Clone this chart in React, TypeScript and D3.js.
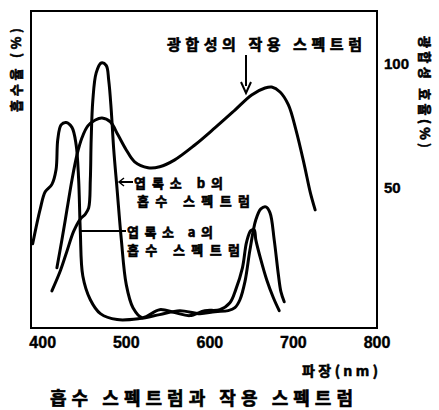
import React, { useEffect, useRef } from "react";
import * as d3 from "d3";

// wavelengths (nm) and relative values (%)
const chlAWavelength = [388, 397, 403, 411, 416, 418, 422, 428, 435, 440, 443, 445, 448, 457, 469, 489, 516, 540, 564, 588, 606, 622, 630, 636, 642, 648, 655, 661, 667, 672, 677, 682, 685, 689];
const chlAValue = [27, 41, 48, 51, 57, 69, 75, 76, 74, 67, 53, 32, 14, 4.4, -1.2, -3.6, -3.2, -1.6, 0, -1.2, -0.4, 0, 1.2, 4.4, 11.7, 24.6, 36.7, 41.1, 41.9, 39.5, 28.6, 14.5, 7.7, 3.6];

const chlBWavelength = [411, 421, 429, 437, 445, 451, 455, 457, 458, 460, 464, 470, 476, 479, 482, 485, 489, 494, 500, 508, 519, 540, 558, 576, 594, 612, 624, 631, 639, 644, 649, 653, 655, 661, 668, 676, 683];
const chlBValue = [8, 16, 24, 32, 37, 39, 41.5, 53, 69, 85, 96, 100, 99, 93, 81, 65, 49, 29, 10.5, 1.2, -2.8, 0.4, -0.8, -2, 0, 0.4, 3.2, 8.5, 17.3, 27.8, 32.3, 32.7, 28.6, 20.6, 12.5, 5.2, 0];

const actionWavelength = [417, 423, 429, 435, 441, 447, 454, 463, 471, 481, 490, 500, 510, 526, 540, 558, 582, 606, 630, 650, 666, 674, 684, 694, 703, 713, 720, 726];
const actionValue = [17.3, 28.6, 40.7, 52.8, 62.9, 69.8, 74.6, 77, 77.8, 76.2, 71, 64.9, 60.1, 57.7, 58.1, 60.9, 66.9, 73.8, 81, 87.1, 89.9, 90.3, 88.3, 83.1, 73, 58.9, 48, 40.7];

const xTicks = [400, 500, 600, 700, 800];
const yTicks = [50, 100];

const KR = "'Noto Sans CJK KR', 'Noto Sans', sans-serif";
const NUM = "'Liberation Sans', Arial, sans-serif";

export default function App() {
  const svgRef = useRef<SVGSVGElement>(null);

  useEffect(() => {
    const width = 439;
    const height = 410;
    const left = 31, right = 377, top = 11, bottom = 328;

    const svg = d3.select(svgRef.current);
    svg.selectAll("*").remove();
    svg.attr("width", width).attr("height", height);

    svg.append("rect").attr("width", width).attr("height", height).attr("fill", "#fff");

    const x = d3.scaleLinear().domain([386, 800]).range([left, right]);
    const y = d3.scaleLinear().domain([-7, 121]).range([bottom, top]);

    // frame
    svg.append("rect")
      .attr("x", left).attr("y", top)
      .attr("width", right - left).attr("height", bottom - top)
      .attr("fill", "none").attr("stroke", "#000").attr("stroke-width", 2);

    const line = d3.line<[number, number]>()
      .x((d) => x(d[0]))
      .y((d) => y(d[1]))
      .curve(d3.curveCatmullRom.alpha(0.5));

    const series = [
      d3.zip(chlAWavelength, chlAValue),
      d3.zip(chlBWavelength, chlBValue),
      d3.zip(actionWavelength, actionValue),
    ] as [number, number][][];

    svg.selectAll("path.curve")
      .data(series)
      .join("path")
      .attr("class", "curve")
      .attr("d", (d) => line(d))
      .attr("fill", "none")
      .attr("stroke", "#000")
      .attr("stroke-width", 3)
      .attr("stroke-linejoin", "round")
      .attr("stroke-linecap", "round");

    // x tick labels
    svg.selectAll("text.xt")
      .data(xTicks)
      .join("text")
      .attr("class", "xt")
      .attr("x", (d) => x(d))
      .attr("y", 342)
      .attr("text-anchor", "middle")
      .attr("dominant-baseline", "central")
      .style("font-family", NUM)
      .style("font-weight", "bold")
      .style("font-size", "16px")
      .attr("stroke", "#000").attr("stroke-width", 0.4)
      .text((d) => d);

    // right tick labels
    const yr = d3.scaleLinear().domain([0, 100]).range([311, 63]);
    svg.selectAll("text.yt")
      .data(yTicks)
      .join("text")
      .attr("class", "yt")
      .attr("x", 384)
      .attr("y", (d) => yr(d))
      .attr("dominant-baseline", "central")
      .style("font-family", NUM)
      .style("font-weight", "bold")
      .style("font-size", "15px")
      .attr("stroke", "#000").attr("stroke-width", 0.4)
      .text((d) => d);

    const label = (t: string, px: number, py: number, size: number, len?: number) => {
      const el = svg.append("text")
        .attr("x", px).attr("y", py)
        .attr("dominant-baseline", "central")
        .style("font-family", KR)
        .style("font-weight", "bold")
        .style("font-size", `${size}px`)
        .attr("stroke", "#000").attr("stroke-width", 0.6)
        .text(t);
      if (len) el.attr("textLength", len).attr("lengthAdjust", "spacing");
      return el;
    };

    // axis titles
    label("파장(nm)", 302, 370, 14, 76);
    label("흡수 스펙트럼과 작용 스펙트럼", 50, 397, 18, 303);

    svg.append("text")
      .attr("transform", "translate(15,70) rotate(-90)")
      .attr("text-anchor", "middle")
      .attr("dominant-baseline", "central")
      .style("font-family", KR).style("font-weight", "bold").style("font-size", "13px")
      .attr("stroke", "#000").attr("stroke-width", 0.6)
      .attr("textLength", 84).attr("lengthAdjust", "spacing")
      .text("흡수율 (%)");

    svg.append("text")
      .attr("transform", "translate(425,92) rotate(90)")
      .attr("text-anchor", "middle")
      .attr("dominant-baseline", "central")
      .style("font-family", KR).style("font-weight", "bold").style("font-size", "13px")
      .attr("stroke", "#000").attr("stroke-width", 0.6)
      .attr("textLength", 112).attr("lengthAdjust", "spacing")
      .text("광합성 효율(%)");

    // annotations
    label("광합성의 작용 스펙트럼", 167, 43, 15, 195);
    svg.append("line")
      .attr("x1", 246).attr("y1", 55).attr("x2", 246).attr("y2", 86)
      .attr("stroke", "#000").attr("stroke-width", 2);
    svg.append("path")
      .attr("d", "M241,82 L246,93 L251,82")
      .attr("fill", "none").attr("stroke", "#000").attr("stroke-width", 2);

    label("엽록소 b의", 134, 182, 13, 89);
    label("흡수 스펙트럼", 137, 200, 13, 113);
    svg.append("line")
      .attr("x1", 119).attr("y1", 182).attr("x2", 133).attr("y2", 182)
      .attr("stroke", "#000").attr("stroke-width", 2);
    svg.append("path")
      .attr("d", "M124,178 L119,182 L124,186")
      .attr("fill", "none").attr("stroke", "#000").attr("stroke-width", 1.5);

    label("엽록소 a의", 127, 231, 13, 86);
    label("흡수 스펙트럼", 127, 249, 13, 113);
    svg.append("line")
      .attr("x1", x(445)).attr("y1", 231).attr("x2", 126).attr("y2", 231)
      .attr("stroke", "#000").attr("stroke-width", 2);
  }, []);

  return (
    <svg ref={svgRef} style={{ position: "absolute", left: 0, top: 0 }}></svg>
  );
}
